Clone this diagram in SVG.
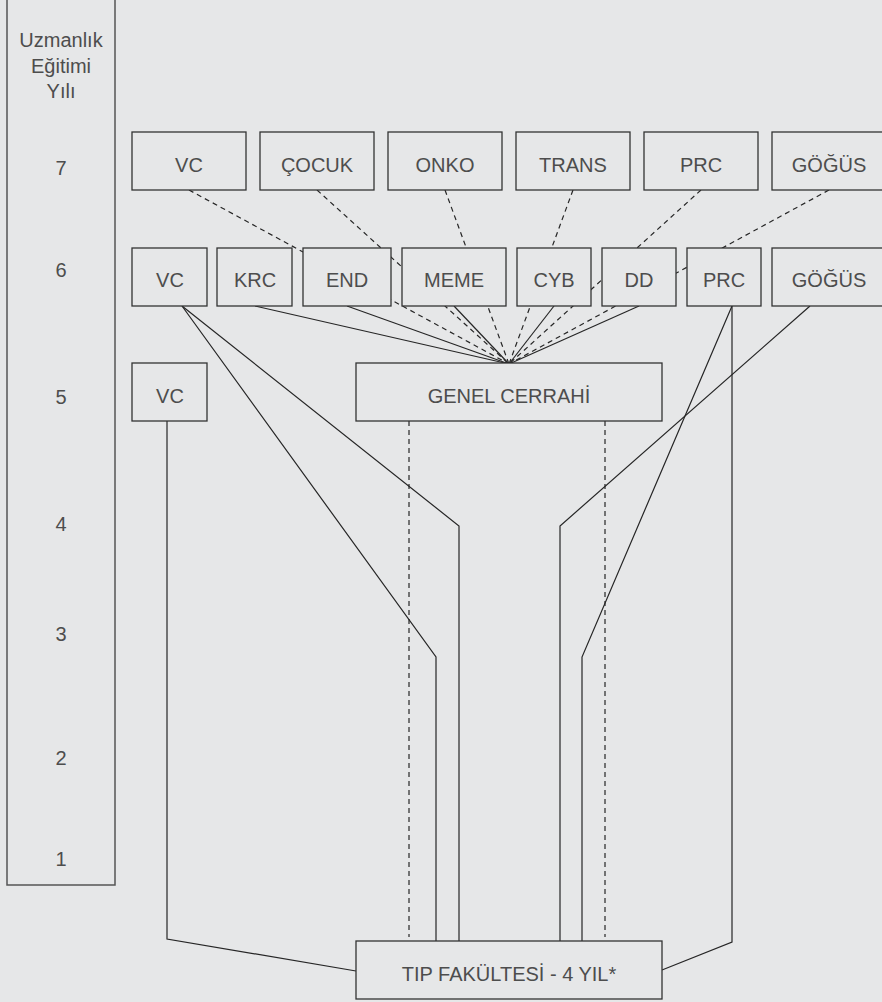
<svg xmlns="http://www.w3.org/2000/svg" width="882" height="1002" viewBox="0 0 882 1002">
  <style>
    .bg { fill: #e6e7e8; }
    .box { fill: #e6e7e8; stroke: #333333; stroke-width: 1.3; }
    .col { fill: #e6e7e8; stroke: #555555; stroke-width: 1.5; }
    .lbl { font-family: "Liberation Sans", Arial, sans-serif; font-size: 20px; fill: #4d4d4d; text-anchor: middle; }
    .solid { fill: none; stroke: #262626; stroke-width: 1.2; }
    .dash { fill: none; stroke: #262626; stroke-width: 1.2; stroke-dasharray: 5 4; }
  </style>
  <rect class="bg" x="0" y="0" width="882" height="1002"/>

  <!-- year axis -->
  <g id="year-axis">
    <rect class="col" x="7" y="-1" width="108" height="886"/>
    <text class="lbl" x="61" y="47">Uzmanlık</text>
    <text class="lbl" x="61" y="73">Eğitimi</text>
    <text class="lbl" x="61" y="98">Yılı</text>
    <text class="lbl" x="61" y="175">7</text>
    <text class="lbl" x="61" y="277">6</text>
    <text class="lbl" x="61" y="404">5</text>
    <text class="lbl" x="61" y="531">4</text>
    <text class="lbl" x="61" y="641">3</text>
    <text class="lbl" x="61" y="765">2</text>
    <text class="lbl" x="61" y="866">1</text>
  </g>

  <!-- connectors -->
  <g id="connectors">
    <!-- year 7 subspecialties into general surgery -->
    <path class="dash" d="M189 190 L509 364"/>
    <path class="dash" d="M317 190 L509 364"/>
    <path class="dash" d="M445 190 L509 364"/>
    <path class="dash" d="M573 190 L509 364"/>
    <path class="dash" d="M701 190 L509 364"/>
    <path class="dash" d="M829 190 L509 364"/>
    <!-- year 6 subspecialties into general surgery -->
    <path class="solid" d="M255 306 L509 364"/>
    <path class="solid" d="M347 306 L509 364"/>
    <path class="solid" d="M454 306 L509 364"/>
    <path class="solid" d="M554 306 L509 364"/>
    <path class="solid" d="M639 306 L509 364"/>
    <!-- general surgery down to medical school -->
    <path class="dash" d="M409 421 L409 937"/>
    <path class="dash" d="M605 421 L605 937"/>
    <!-- direct tracks from medical school -->
    <path class="solid" d="M182 306 L436 657 L436 941"/>
    <path class="solid" d="M182 306 L459 526 L459 941"/>
    <path class="solid" d="M810 306 L560 526 L560 941"/>
    <path class="solid" d="M732 306 L582 657 L582 941"/>
    <path class="solid" d="M732 306 L732 942 L662 970"/>
    <path class="solid" d="M167 421 L167 939 L356 971"/>
  </g>

  <!-- year 7 -->
  <g id="vc-7"><rect class="box" x="132" y="132" width="114" height="58"/><text class="lbl" x="189" y="172">VC</text></g>
  <g id="cocuk-7"><rect class="box" x="260" y="132" width="114" height="58"/><text class="lbl" x="317" y="172">ÇOCUK</text></g>
  <g id="onko-7"><rect class="box" x="388" y="132" width="114" height="58"/><text class="lbl" x="445" y="172">ONKO</text></g>
  <g id="trans-7"><rect class="box" x="516" y="132" width="114" height="58"/><text class="lbl" x="573" y="172">TRANS</text></g>
  <g id="prc-7"><rect class="box" x="644" y="132" width="114" height="58"/><text class="lbl" x="701" y="172">PRC</text></g>
  <g id="gogus-7"><rect class="box" x="772" y="132" width="114" height="58"/><text class="lbl" x="829" y="172">GÖĞÜS</text></g>

  <!-- year 6 -->
  <g id="vc-6"><rect class="box" x="132" y="248" width="75" height="58"/><text class="lbl" x="170" y="287">VC</text></g>
  <g id="krc-6"><rect class="box" x="217" y="248" width="75" height="58"/><text class="lbl" x="255" y="287">KRC</text></g>
  <g id="end-6"><rect class="box" x="303" y="248" width="88" height="58"/><text class="lbl" x="347" y="287">END</text></g>
  <g id="meme-6"><rect class="box" x="402" y="248" width="104" height="58"/><text class="lbl" x="454" y="287">MEME</text></g>
  <g id="cyb-6"><rect class="box" x="517" y="248" width="74" height="58"/><text class="lbl" x="554" y="287">CYB</text></g>
  <g id="dd-6"><rect class="box" x="602" y="248" width="74" height="58"/><text class="lbl" x="639" y="287">DD</text></g>
  <g id="prc-6"><rect class="box" x="687" y="248" width="74" height="58"/><text class="lbl" x="724" y="287">PRC</text></g>
  <g id="gogus-6"><rect class="box" x="772" y="248" width="114" height="58"/><text class="lbl" x="829" y="287">GÖĞÜS</text></g>

  <!-- year 5 -->
  <g id="vc-5"><rect class="box" x="132" y="363" width="75" height="58"/><text class="lbl" x="170" y="403">VC</text></g>
  <g id="genel-cerrahi"><rect class="box" x="356" y="363" width="306" height="58"/><text class="lbl" x="509" y="403">GENEL CERRAHİ</text></g>

  <!-- medical school -->
  <g id="tip-fakultesi"><rect class="box" x="356" y="941" width="306" height="58"/><text class="lbl" x="509" y="981">TIP FAKÜLTESİ - 4 YIL*</text></g>
</svg>
